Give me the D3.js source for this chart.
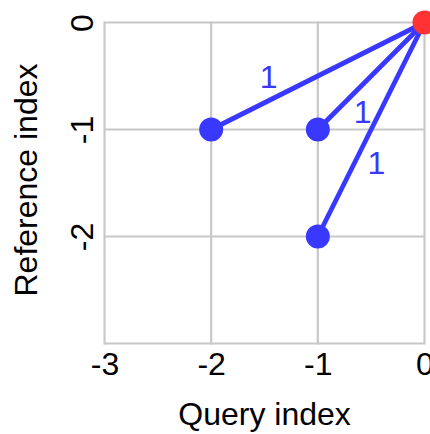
<!DOCTYPE html>
<html>
<head>
<meta charset="utf-8">
<script src="https://cdn.jsdelivr.net/npm/d3@7"></script>
<style>
  html, body { margin: 0; padding: 0; background: #fff; }
  svg { display: block; font-family: "Liberation Sans", Arial, Helvetica, sans-serif; }
</style>
</head>
<body>
<div id="chart"></div>
<script>
// tick values
var xTicks = [-3, -2, -1, 0];
var xTickLabels = ["-3", "-2", "-1", "0"];
var yTicks = [0, -1, -2, -3];
var yTickLabels = ["0", "-1", "-2", ""];

// warping path points (query index, reference index)
var queryIdx = [-2, -1, -1];
var refIdx = [-1, -1, -2];
var edgeCost = [1, 1, 1];
// where each cost label sits, in data units
var labelQuery = [-1.46, -0.58, -0.45];
var labelRef = [-0.5, -0.83, -1.31];

// the end point
var endQuery = [0];
var endRef = [0];

var margin = {top: 22.5, right: 5.5, bottom: 90.5, left: 104.5},
    width = 430 - margin.left - margin.right,
    height = 434 - margin.top - margin.bottom;

var fs = 32;

var svg = d3.select("#chart")
            .append("svg")
            .attr("width", 430)
            .attr("height", 434)
            .style("overflow", "hidden");

var g = svg.append("g")
           .attr("transform", "translate(" + margin.left + "," + margin.top + ")");

var x = d3.scaleLinear().domain([-3, 0]).range([0, width]);
var y = d3.scaleLinear().domain([0, -3]).range([0, height]);

// grid
g.selectAll(".vgrid")
  .data(xTicks)
  .enter()
  .append("line")
  .attr("class", "vgrid")
  .attr("x1", function(d){ return x(d); })
  .attr("x2", function(d){ return x(d); })
  .attr("y1", y(0) - 1.1).attr("y2", y(-3) + 1.1)
  .attr("stroke", "#c8c8c8")
  .attr("stroke-width", 2.2);

g.selectAll(".hgrid")
  .data(yTicks)
  .enter()
  .append("line")
  .attr("class", "hgrid")
  .attr("y1", function(d){ return y(d); })
  .attr("y2", function(d){ return y(d); })
  .attr("x1", x(-3)).attr("x2", x(0))
  .attr("stroke", "#c8c8c8")
  .attr("stroke-width", 2.2);

// x axis labels
var xAxis = g.append("g")
  .attr("transform", "translate(0," + height + ")")
  .call(d3.axisBottom(x).tickValues(xTicks).tickSize(0)
          .tickFormat(function(d, i){ return xTickLabels[i]; }));
xAxis.select(".domain").remove();
xAxis.selectAll("text")
  .attr("y", 31.5)
  .attr("dy", null)
  .attr("fill", "#000")
  .style("font-size", fs + "px")
  .style("font-family", "Liberation Sans, Arial, sans-serif");

// y axis labels (rotated)
var yAxis = g.append("g")
  .call(d3.axisLeft(y).tickValues(yTicks).tickSize(0)
          .tickFormat(function(d, i){ return yTickLabels[i]; }));
yAxis.select(".domain").remove();
yAxis.selectAll("text")
  .attr("x", 0).attr("y", 0).attr("dy", null)
  .attr("text-anchor", "middle")
  .attr("transform", "translate(-11.5,0) rotate(-90)")
  .attr("fill", "#000")
  .style("font-size", fs + "px")
  .style("font-family", "Liberation Sans, Arial, sans-serif");

// axis titles
g.append("text")
  .attr("x", width / 2)
  .attr("y", 425 - margin.top)
  .attr("text-anchor", "middle")
  .style("font-size", fs + "px")
  .text("Query index");

g.append("text")
  .attr("transform", "translate(" + (37 - margin.left) + "," + (height / 2 - 3) + ") rotate(-90)")
  .attr("text-anchor", "middle")
  .style("font-size", fs + "px")
  .text("Reference index");

// edges
var idx = d3.range(queryIdx.length);
g.selectAll(".edge")
  .data(idx)
  .enter()
  .append("line")
  .attr("class", "edge")
  .attr("x1", function(i){ return x(queryIdx[i]); })
  .attr("y1", function(i){ return y(refIdx[i]); })
  .attr("x2", x(endQuery[0]))
  .attr("y2", y(endRef[0]))
  .attr("stroke", "#3838ff")
  .attr("stroke-width", 4.8);

g.selectAll(".cost")
  .data(idx)
  .enter()
  .append("text")
  .attr("class", "cost")
  .attr("x", function(i){ return x(labelQuery[i]); })
  .attr("y", function(i){ return y(labelRef[i]); })
  .attr("dy", "0.36em")
  .attr("text-anchor", "middle")
  .style("font-size", fs + "px")
  .attr("fill", "#3838ff")
  .text(function(i){ return edgeCost[i]; });

// nodes
g.selectAll(".node")
  .data(idx)
  .enter()
  .append("circle")
  .attr("class", "node")
  .attr("cx", function(i){ return x(queryIdx[i]); })
  .attr("cy", function(i){ return y(refIdx[i]); })
  .attr("r", 12)
  .attr("fill", "#3838ff");

g.selectAll(".endnode")
  .data(endQuery)
  .enter()
  .append("circle")
  .attr("class", "endnode")
  .attr("cx", function(d){ return x(d); })
  .attr("cy", function(d, i){ return y(endRef[i]); })
  .attr("r", 12)
  .attr("fill", "#ff3333");
</script>
</body>
</html>
